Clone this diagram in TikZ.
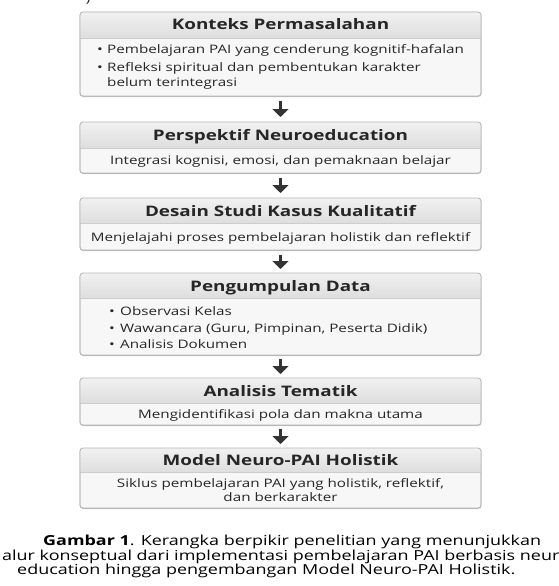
\documentclass[tikz,border=0pt]{standalone}
\usepackage{fontspec}
\setmainfont{Open Sans}[FakeStretch=1.3]
\usetikzlibrary{arrows.meta,shadows}
\definecolor{bordergray}{HTML}{B8B8B8}
\definecolor{bodyfill}{HTML}{F7F7F7}
\definecolor{hdrtop}{HTML}{F1F1F1}
\definecolor{hdrbot}{HTML}{DEDEDE}
\definecolor{textdark}{HTML}{262626}
\definecolor{arrowdark}{HTML}{333333}
\newcommand\mypanel[4]{%
  \node[panel, minimum height={(#4-#2)*1pt}, anchor=north] (#1) at (280.5,#2) {};
  \begin{scope}
    \clip[rounded corners=3pt] (80,#2) rectangle (481,#4);
    \fill[top color=hdrtop,bottom color=hdrbot] (80,#2) rectangle (481,#3);
    \draw[bordergray!70, line width=0.6pt] (80,#3) -- (481,#3);
  \end{scope}
  \draw[bordergray, line width=0.8pt, rounded corners=3pt] (80,#2) rectangle (481,#4);}
\begin{document}
\begin{tikzpicture}[x=1pt,y=-1pt,
  panel/.style={draw=bordergray, line width=0.8pt, rounded corners=3pt, fill=bodyfill,
    minimum width=401pt, inner sep=0pt,
    drop shadow={opacity=0.12,shadow xshift=0.6pt,shadow yshift=-1pt}},
  hdr/.style={font=\fontsize{14.5}{16}\selectfont\bfseries, text=textdark, anchor=base},
  body/.style={font=\fontsize{11.7}{14}\selectfont, text=textdark, anchor=base, inner sep=0pt},
  bl/.style={body, anchor=base west},
  captext/.style={font=\fontsize{13.8}{15}\selectfont, text=black, anchor=base west, inner sep=0pt},
  flow/.style={line width=3pt, draw=arrowdark, -{Triangle[width=16pt,length=8pt]}}]
\useasboundingbox (0,0) rectangle (559,586);
\fill[white] (0,0) rectangle (559,586);
\node[body, anchor=base] (frag) at (88,3) {)};

% panels
\mypanel{p1}{12}{38}{96}
\mypanel{p2}{122}{148}{173}
\mypanel{p3}{198}{223}{250}
\mypanel{p4}{273}{298}{355}
\mypanel{p5}{378}{403}{425}
\mypanel{p6}{448}{472}{508}

% panel 1
\node[hdr] (h1) at (280.5,30) {Konteks Permasalahan};
\node[bl] (b1a) at (97,54) {•};
\node[bl] (t1a) at (107,54) {Pembelajaran PAI yang cenderung kognitif-hafalan};
\node[bl] (b1b) at (97,71) {•};
\node[bl] (t1b) at (107,71) {Refleksi spiritual dan pembentukan karakter};
\node[bl] (t1c) at (107,86) {belum terintegrasi};

% panel 2
\node[hdr] (h2) at (280.5,140) {Perspektif Neuroeducation};
\node[body] (t2) at (280.5,164) {Integrasi kognisi, emosi, dan pemaknaan belajar};

% panel 3
\node[hdr] (h3) at (280.5,216) {Desain Studi Kasus Kualitatif};
\node[body] (t3) at (280.5,241) {Menjelajahi proses pembelajaran holistik dan reflektif};

% panel 4
\node[hdr] (h4) at (280.5,291) {Pengumpulan Data};
\node[bl] (b4a) at (109,315) {•};
\node[bl] (t4a) at (120,315) {Observasi Kelas};
\node[bl] (b4b) at (109,332) {•};
\node[bl] (t4b) at (120,332) {Wawancara (Guru, Pimpinan, Peserta Didik)};
\node[bl] (b4c) at (109,348) {•};
\node[bl] (t4c) at (120,348) {Analisis Dokumen};

% panel 5
\node[hdr] (h5) at (280.5,396) {Analisis Tematik};
\node[body] (t5) at (280.5,418) {Mengidentifikasi pola dan makna utama};

% panel 6
\node[hdr] (h6) at (280.5,465) {Model Neuro-PAI Holistik};
\node[body] (t6a) at (280.5,487) {Siklus pembelajaran PAI yang holistik, reflektif,};
\node[body] (t6b) at (280.5,501) {dan berkarakter};

% arrows
\draw[flow] ([yshift=-4pt]p1.south) -- ([yshift=5pt]p2.north);
\draw[flow] ([yshift=-4pt]p2.south) -- ([yshift=5pt]p3.north);
\draw[flow] ([yshift=-4pt]p3.south) -- ([yshift=4pt]p4.north);
\draw[flow] ([yshift=-3pt]p4.south) -- ([yshift=4pt]p5.north);
\draw[flow] ([yshift=-3pt]p5.south) -- ([yshift=4pt]p6.north);

% caption
\node[captext] (c1) at (43,545) {\textbf{Gambar 1}. Kerangka berpikir penelitian yang menunjukkan};
\node[captext] (c2) at (2,560) {alur konseptual dari implementasi pembelajaran PAI berbasis neuro};
\node[captext] (c3) at (17,574) {education hingga pengembangan Model Neuro-PAI Holistik.};
\end{tikzpicture}
\end{document}
